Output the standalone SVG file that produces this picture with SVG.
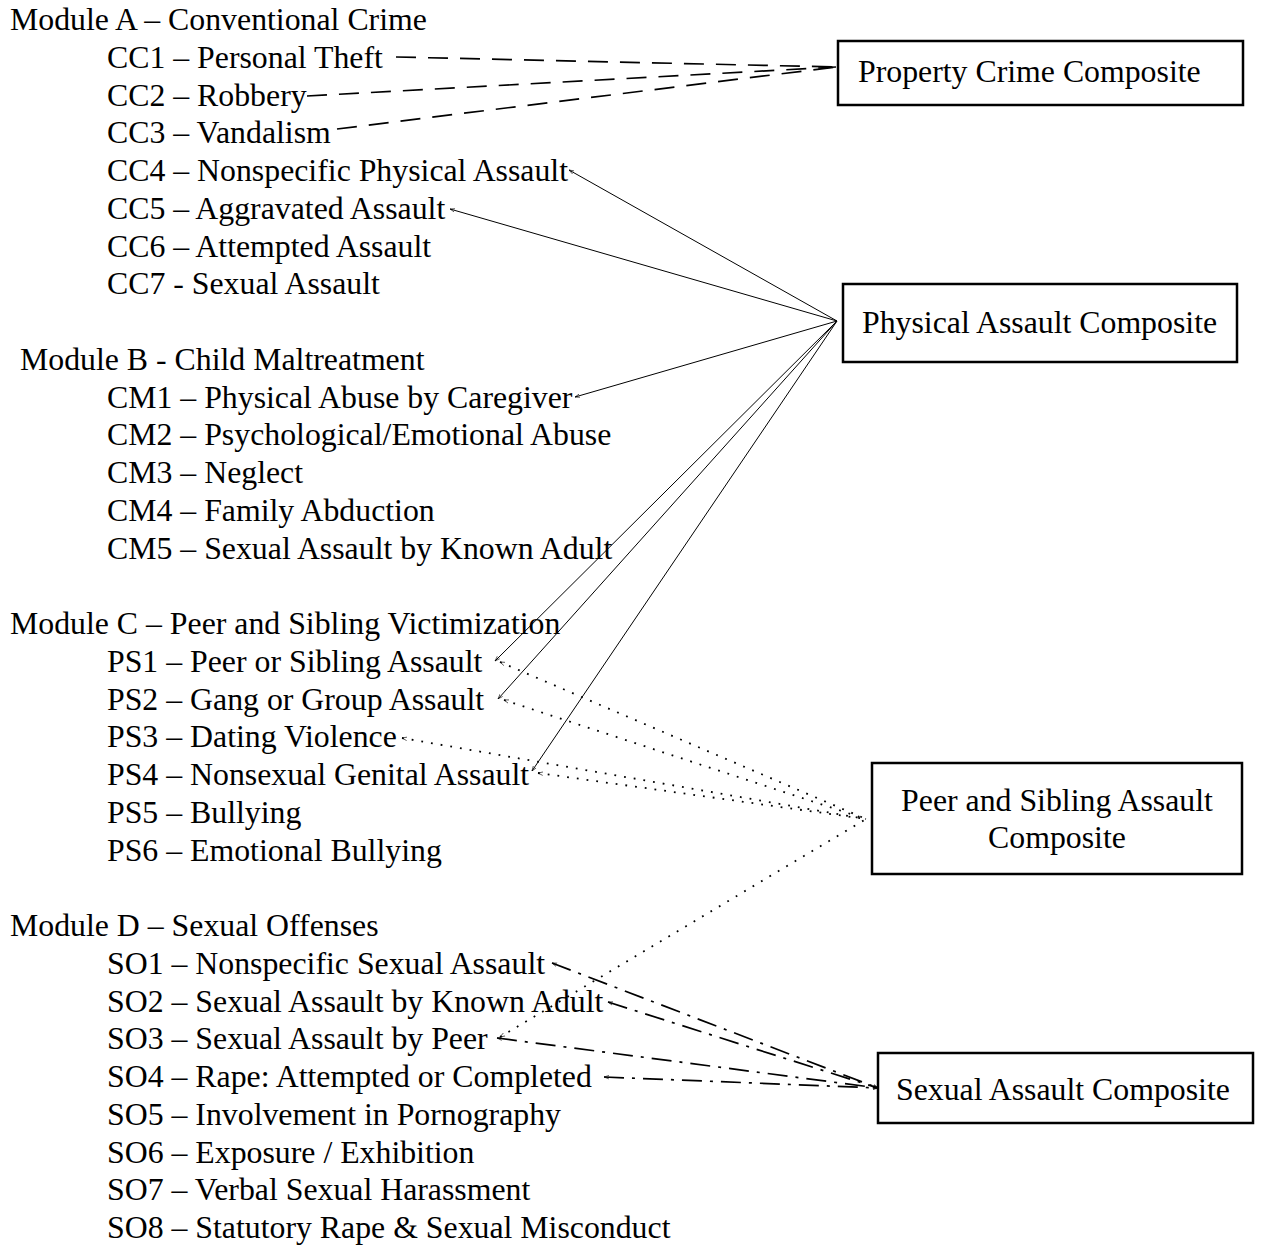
<svg xmlns="http://www.w3.org/2000/svg" width="1270" height="1245" viewBox="0 0 1270 1245">
<style>
text{font-family:"Liberation Serif","Times New Roman",serif;font-size:31.8px;fill:#000}
.box{fill:#fff;stroke:#000;stroke-width:2.5}
.c{fill:none;stroke:#000}
.dash{stroke-width:1.7;stroke-dasharray:20 12}
.solid{stroke-width:1}
.dot{stroke-width:1.8;stroke-dasharray:1.8 8}
.dd{stroke-width:1.7;stroke-dasharray:20 8 3 8}
.ar{marker-start:url(#ah)}
.ar2{marker-start:url(#ah);marker-end:url(#ah)}
</style>
<defs>
<marker id="ah" viewBox="0 0 10 10" refX="10" refY="5" markerWidth="5" markerHeight="5" markerUnits="userSpaceOnUse" orient="auto-start-reverse">
<path d="M0,1.5 L10,5 L0,8.5" fill="none" stroke="#000" stroke-width="1.2"/>
</marker>
</defs>
<rect width="1270" height="1245" fill="#fff"/>
<g id="list">
<text x="10" y="30">Module A – Conventional Crime</text>
<text x="107" y="67.75">CC1 – Personal Theft</text>
<text x="107" y="105.5">CC2 – Robbery</text>
<text x="107" y="143.25">CC3 – Vandalism</text>
<text x="107" y="181">CC4 – Nonspecific Physical Assault</text>
<text x="107" y="218.75">CC5 – Aggravated Assault</text>
<text x="107" y="256.5">CC6 – Attempted Assault</text>
<text x="107" y="294.25">CC7 - Sexual Assault</text>
<text x="20" y="369.75">Module B - Child Maltreatment</text>
<text x="107" y="407.5">CM1 – Physical Abuse by Caregiver</text>
<text x="107" y="445.25">CM2 – Psychological/Emotional Abuse</text>
<text x="107" y="483">CM3 – Neglect</text>
<text x="107" y="520.75">CM4 – Family Abduction</text>
<text x="107" y="558.5">CM5 – Sexual Assault by Known Adult</text>
<text x="10" y="634">Module C – Peer and Sibling Victimization</text>
<text x="107" y="671.75">PS1 – Peer or Sibling Assault</text>
<text x="107" y="709.5">PS2 – Gang or Group Assault</text>
<text x="107" y="747.25">PS3 – Dating Violence</text>
<text x="107" y="785">PS4 – Nonsexual Genital Assault</text>
<text x="107" y="822.75">PS5 – Bullying</text>
<text x="107" y="860.5">PS6 – Emotional Bullying</text>
<text x="10" y="936">Module D – Sexual Offenses</text>
<text x="107" y="973.75">SO1 – Nonspecific Sexual Assault</text>
<text x="107" y="1011.5">SO2 – Sexual Assault by Known Adult</text>
<text x="107" y="1049.25">SO3 – Sexual Assault by Peer</text>
<text x="107" y="1087">SO4 – Rape: Attempted or Completed</text>
<text x="107" y="1124.75">SO5 – Involvement in Pornography</text>
<text x="107" y="1162.5">SO6 – Exposure / Exhibition</text>
<text x="107" y="1200.25">SO7 – Verbal Sexual Harassment</text>
<text x="107" y="1238">SO8 – Statutory Rape &amp; Sexual Misconduct</text>
</g>
<g id="connectors">
<line class="c dash" x1="396" y1="57" x2="836" y2="67"/>
<line class="c dash" x1="307" y1="96" x2="836" y2="67"/>
<line class="c dash" x1="337" y1="129" x2="836" y2="67"/>
<line class="c solid ar" x1="569" y1="170" x2="837" y2="321"/>
<line class="c solid ar" x1="450" y1="209" x2="837" y2="321"/>
<line class="c solid ar" x1="575" y1="397" x2="837" y2="321"/>
<line class="c solid ar" x1="495" y1="661" x2="837" y2="321"/>
<line class="c solid ar" x1="498" y1="699" x2="837" y2="321"/>
<line class="c solid ar" x1="532" y1="771" x2="837" y2="321"/>
<line class="c dot ar" x1="500" y1="662" x2="866" y2="819"/>
<line class="c dot ar" x1="504" y1="700" x2="866" y2="819"/>
<line class="c dot ar" x1="402" y1="738" x2="866" y2="819"/>
<line class="c dot ar" x1="538" y1="773" x2="866" y2="819"/>
<line class="c dot ar" x1="500" y1="1037" x2="866" y2="819"/>
<line class="c dd ar2" x1="552" y1="963" x2="878" y2="1088"/>
<line class="c dd ar2" x1="608" y1="1002" x2="878" y2="1088"/>
<line class="c dd ar2" x1="497" y1="1038" x2="878" y2="1088"/>
<line class="c dd ar2" x1="604" y1="1077" x2="878" y2="1088"/>
</g>
<g id="property">
<rect class="box" x="838" y="41" width="405" height="64"/>
<text x="858" y="82">Property Crime Composite</text>
</g>
<g id="physical">
<rect class="box" x="843" y="284" width="394" height="78"/>
<text x="862" y="333">Physical Assault Composite</text>
</g>
<g id="peer">
<rect class="box" x="872" y="763" width="370" height="111"/>
<text x="1057" y="811" text-anchor="middle">Peer and Sibling Assault</text>
<text x="1057" y="848" text-anchor="middle">Composite</text>
</g>
<g id="sexual">
<rect class="box" x="878" y="1053" width="375" height="70"/>
<text x="896" y="1100">Sexual Assault Composite</text>
</g>
</svg>
